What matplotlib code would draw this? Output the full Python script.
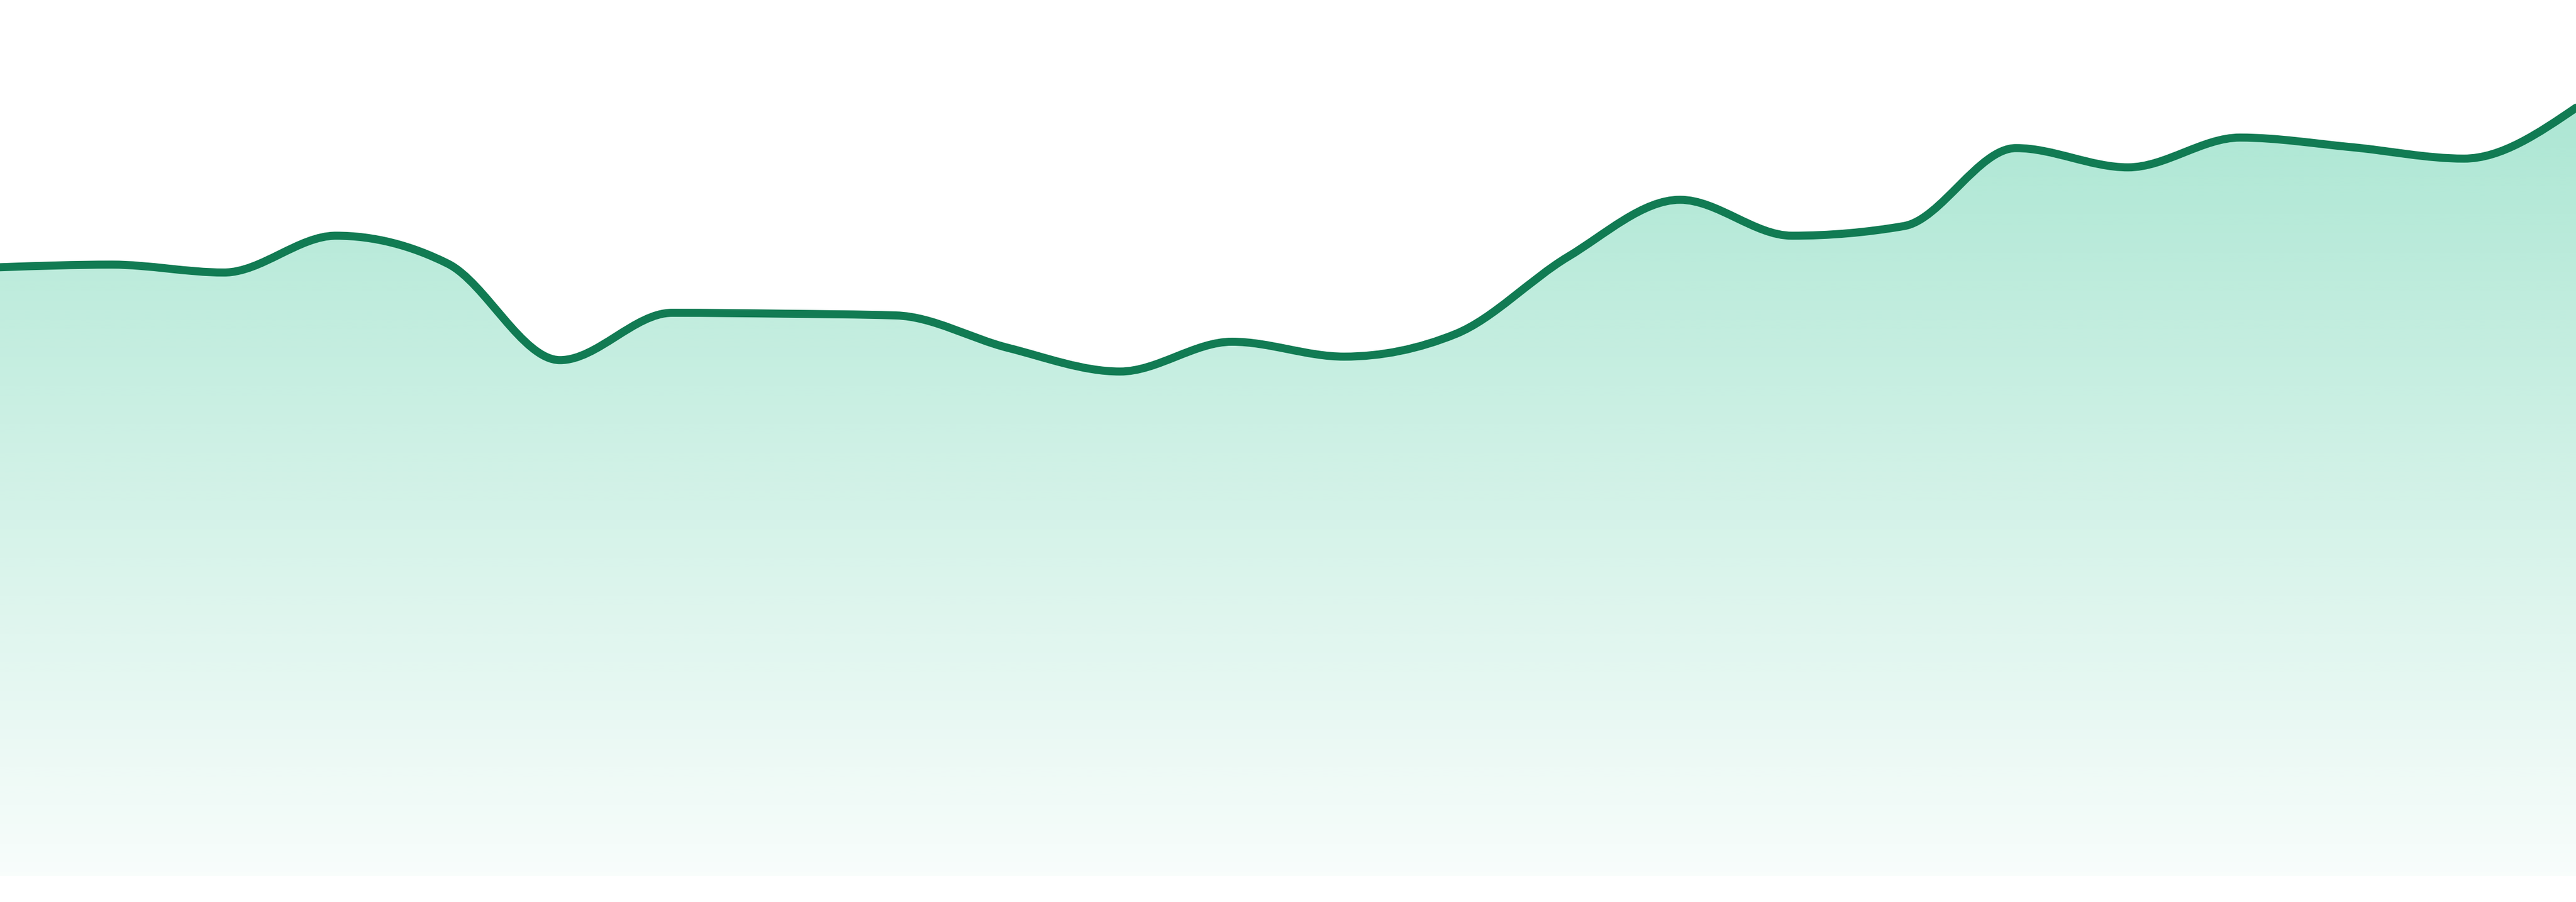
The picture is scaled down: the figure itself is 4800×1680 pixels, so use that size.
import numpy as np
import matplotlib
matplotlib.use("Agg")
import matplotlib.pyplot as plt
from matplotlib.path import Path
from matplotlib.patches import PathPatch

# ---- data ----
steps = list(range(24))
values = [69.5, 69.8, 68.9, 73.1, 69.9, 58.9, 64.3, 64.2, 64.0, 60.3, 57.6, 61.0,
          59.3, 61.9, 70.7, 77.2, 73.1, 74.2, 83.1, 80.9, 84.3, 83.2, 81.9, 87.7]
y_min, y_max = 0, 100

line_color = "#117B53"
fill_rgb = (16 / 255, 185 / 255, 129 / 255)


def monotone_tangents(x, y):
    x = np.asarray(x, float)
    y = np.asarray(y, float)
    n = len(x)
    t = np.zeros(n)
    for i in range(1, n - 1):
        h0 = x[i] - x[i - 1]
        h1 = x[i + 1] - x[i]
        s0 = (y[i] - y[i - 1]) / h0
        s1 = (y[i + 1] - y[i]) / h1
        p = (s0 * h1 + s1 * h0) / (h0 + h1)
        t[i] = (np.sign(s0) + np.sign(s1)) * min(abs(s0), abs(s1), 0.5 * abs(p))
    h = x[1] - x[0]
    t[0] = (3 * (y[1] - y[0]) / h - t[1]) / 2
    h = x[-1] - x[-2]
    t[-1] = (3 * (y[-1] - y[-2]) / h - t[-2]) / 2
    return t


def curve_vertices(x, y):
    t = monotone_tangents(x, y)
    verts = [(x[0], y[0])]
    codes = [Path.MOVETO]
    for i in range(len(x) - 1):
        dx = (x[i + 1] - x[i]) / 3
        verts += [(x[i] + dx, y[i] + dx * t[i]),
                  (x[i + 1] - dx, y[i + 1] - dx * t[i + 1]),
                  (x[i + 1], y[i + 1])]
        codes += [Path.CURVE4] * 3
    return verts, codes


fig = plt.figure(figsize=(16, 5.6), dpi=300)
fig.patch.set_facecolor("white")
ax = fig.add_axes([0, 48 / 1680, 1, 1632 / 1680])
ax.set_xlim(steps[0], steps[-1])
ax.set_ylim(y_min, y_max)
ax.axis("off")

verts, codes = curve_vertices(steps, values)

# area path
a_verts = verts + [(steps[-1], y_min), (steps[0], y_min), (steps[0], values[0])]
a_codes = codes + [Path.LINETO, Path.LINETO, Path.CLOSEPOLY]
area = PathPatch(Path(a_verts, a_codes), facecolor="none", edgecolor="none",
                 transform=ax.transData)
ax.add_patch(area)

# vertical gradient fill
ny = 512
alpha = np.linspace(0.03, 0.39, ny)[:, None]
grad = np.zeros((ny, 2, 4))
grad[..., 0] = fill_rgb[0]
grad[..., 1] = fill_rgb[1]
grad[..., 2] = fill_rgb[2]
grad[..., 3] = alpha
img = ax.imshow(grad, extent=[steps[0], steps[-1], y_min, y_max], origin="lower",
                aspect="auto", interpolation="bilinear", zorder=1)
img.set_clip_path(area)

# line
line = PathPatch(Path(verts, codes), facecolor="none", edgecolor=line_color,
                 linewidth=3.6, capstyle="round", joinstyle="round", zorder=3,
                 transform=ax.transData)
ax.add_patch(line)

fig.savefig("out.png", dpi=300, facecolor="white")
